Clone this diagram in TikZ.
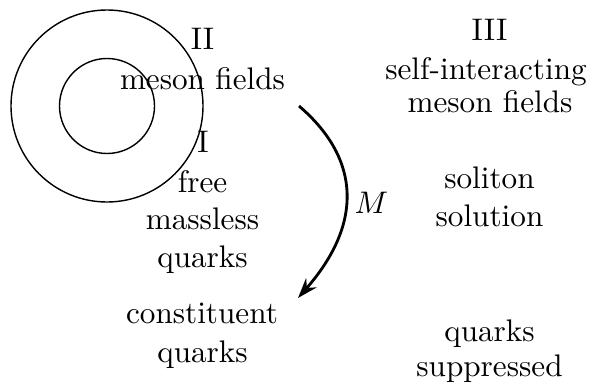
\documentclass[tikz,border=0pt]{standalone}
\usetikzlibrary{arrows.meta}
\begin{document}
\begin{tikzpicture}[x=0.3205pt,y=-0.3205pt,
  lbl/.style={anchor=base,inner sep=0pt,font=\normalsize},
  ring/.style={draw,line width=0.45pt},
  maparrow/.style={line width=0.9pt,-{Stealth[length=6.5pt,width=4.5pt,inset=2.2pt]}}]
\useasboundingbox (0,0) rectangle (592,383);
\draw[ring] (107,106) circle[radius=96];
\draw[ring] (107,106) circle[radius=47.5];
% left column
\node[lbl] (tII) at (202.5,50) {II};
\node[lbl] (tmf) at (202.5,89) {meson fields};
\node[lbl] (tI) at (203,152) {I};
\node[lbl] (tfree) at (202.5,192) {free};
\node[lbl] (tmassless) at (202.5,229) {massless};
\node[lbl] (tquarks) at (202.5,267) {quarks};
\node[lbl] (tconst) at (202,323) {constituent};
\node[lbl] (tcquarks) at (202.5,362) {quarks};
% right column
\node[lbl] (tIII) at (489.5,41) {III};
\node[lbl] (tself) at (486,79) {self-interacting};
\node[lbl] (tmf2) at (490,112) {meson fields};
\node[lbl] (tsol) at (489.5,188) {soliton};
\node[lbl] (tsoln) at (489.5,226) {solution};
\node[lbl] (tsq) at (489.5,341) {quarks};
\node[lbl] (tsupp) at (489.5,376) {suppressed};
% arrow
\coordinate (as) at (299,106);
\coordinate (ae) at (298,298);
\draw[maparrow] (as) .. controls (362,160) and (362,225) .. (ae);
\node[lbl] (tM) at (371.5,213) {$M$};
\end{tikzpicture}
\end{document}
